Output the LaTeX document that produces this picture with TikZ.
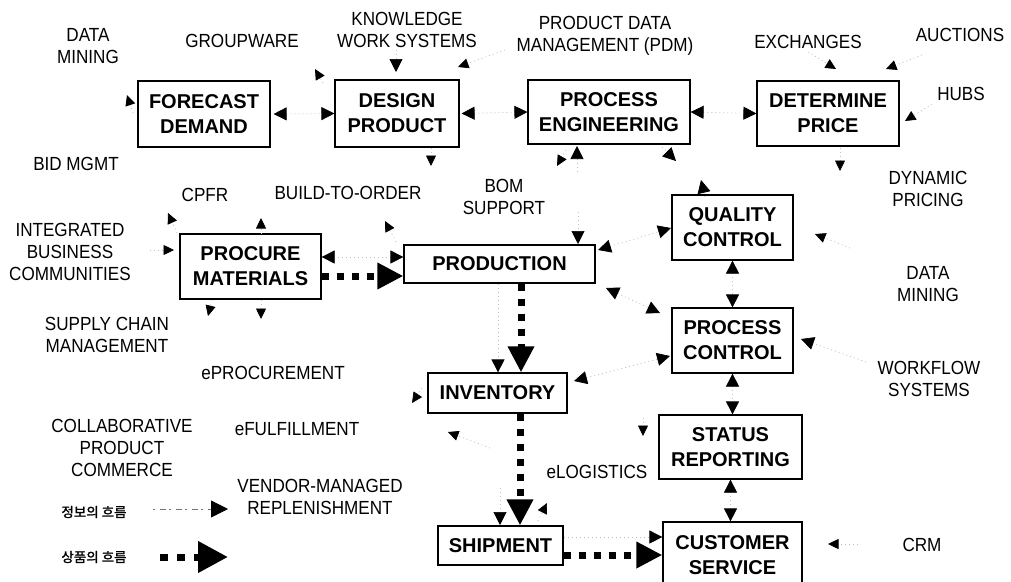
\documentclass[tikz,border=0pt]{standalone}
\usepackage{fontspec}
\setmainfont{Liberation Sans}
\newfontfamily\labfont[FakeStretch=0.9]{Liberation Sans}
\newfontfamily\kofont[FakeBold=1.6]{Noto Sans CJK KR}
\usetikzlibrary{arrows.meta}
\begin{document}
\begin{tikzpicture}[x=1pt,y=-1pt,
  box/.style={draw, line width=1.2pt, inner sep=0pt, align=center,
    font=\fontsize{20}{25}\selectfont\bfseries},
  lab/.style={inner sep=0pt, align=center, font=\labfont\fontsize{19}{22}\selectfont},
  key/.style={inner sep=0pt, font=\kofont\fontsize{13.5}{15}\selectfont},
  info/.style={draw=black!25, line width=0.7pt, dash pattern=on 1pt off 3pt,
    >={Triangle[length=13pt,width=13pt,color=black]}},
  sm/.style={>={Triangle[length=10.5pt,width=10pt,color=black]}},
  goods/.style={draw=black, line width=7pt, dash pattern=on 7pt off 8pt,
    -{Triangle[length=26pt,width=25pt]}},
]
\clip (0,0) rectangle (1011,581);
\fill[white] (0,0) rectangle (1011,581);

% process boxes
\node[box, minimum width=132pt, minimum height=66pt] (fd)  at (204,114)   {FORECAST\\DEMAND};
\node[box, minimum width=124pt, minimum height=67pt] (dp)  at (397,113.5) {DESIGN\\PRODUCT};
\node[box, minimum width=162pt, minimum height=64pt] (pe)  at (609,112)   {PROCESS\\ENGINEERING};
\node[box, minimum width=142pt, minimum height=65pt] (dpr) at (828,113.5) {DETERMINE\\PRICE};
\node[box, minimum width=121pt, minimum height=65pt] (qc)  at (732.5,227.5) {QUALITY\\CONTROL};
\node[box, minimum width=121pt, minimum height=65pt] (pc)  at (732.5,340.5) {PROCESS\\CONTROL};
\node[box, minimum width=143pt, minimum height=64pt] (sr)  at (730.5,447) {STATUS\\REPORTING};
\node[box, minimum width=139pt, minimum height=66pt] (cs)  at (732.5,555) {CUSTOMER\\SERVICE};
\node[box, minimum width=141pt, minimum height=65pt] (pm)  at (250.5,266.5) {PROCURE\\MATERIALS};
\node[box, minimum width=191pt, minimum height=38pt] (pr)  at (499.5,264) {PRODUCTION};
\node[box, minimum width=139pt, minimum height=40pt] (inv) at (497.5,393) {INVENTORY};
\node[box, minimum width=125pt, minimum height=39pt] (sh)  at (500.5,545.5) {SHIPMENT};

% technologies around the boxes
\node[lab] (dm1)   at (88,46)   {DATA\\MINING};
\node[lab] (gw)    at (242,41)  {GROUPWARE};
\node[lab] (kws)   at (407,30)  {KNOWLEDGE\\WORK SYSTEMS};
\node[lab] (pdm)   at (605,36)  {PRODUCT DATA\\MANAGEMENT (PDM)};
\node[lab] (exch)  at (808,42)  {EXCHANGES};
\node[lab] (auc)   at (960,35)  {AUCTIONS};
\node[lab] (hubs)  at (961,94)  {HUBS};
\node[lab] (dyn)   at (928,189) {DYNAMIC\\PRICING};
\node[lab] (bid)   at (76,164)  {BID MGMT};
\node[lab] (cpfr)  at (205,195) {CPFR};
\node[lab] (bto)   at (348,193) {BUILD-TO-ORDER};
\node[lab] (bom)   at (504,197) {BOM\\SUPPORT};
\node[lab] (ibc)   at (70,252)  {INTEGRATED\\BUSINESS\\COMMUNITIES};
\node[lab] (scm)   at (107,335) {SUPPLY CHAIN\\MANAGEMENT};
\node[lab] (eproc) at (273,373) {ePROCUREMENT};
\node[lab] (dm2)   at (928,284) {DATA\\MINING};
\node[lab] (wf)    at (929,379) {WORKFLOW\\SYSTEMS};
\node[lab] (cpc)   at (122,448) {COLLABORATIVE\\PRODUCT\\COMMERCE};
\node[lab] (eful)  at (297,429) {eFULFILLMENT};
\node[lab] (vmr)   at (320,497) {VENDOR-MANAGED\\REPLENISHMENT};
\node[lab] (elog)  at (597,472) {eLOGISTICS};
\node[lab] (crm)   at (922,545) {CRM};

% legend
\node[key] (k1) at (94,512) {정보의 흐름};
\node[key] (k2) at (94,557) {상품의 흐름};
\coordinate (k1a) at (153,509); \coordinate (k1b) at (228,509);
\coordinate (k2a) at (160,557); \coordinate (k2b) at (228,557);
\draw[draw=black!55, line width=0.8pt, dash pattern=on 2pt off 5pt on 6pt off 3pt,
  -{Triangle[length=17pt,width=17pt,color=black]}] (k1a) -- (k1b);
\draw[goods, dash pattern=on 8pt off 9pt, -{Triangle[length=30pt,width=30pt]}] (k2a) -- (k2b);

% flow of goods
\draw[goods] (pm.east |- 0,276) -- (pr.west |- 0,276);
\draw[goods] (pr.south -| 521,0) -- (inv.north -| 521,0);
\draw[goods] (inv.south -| 520,0) -- (sh.north -| 520,0);
\draw[goods] (sh.east |- 0,555) -- (cs.west |- 0,555);

% flow of information between boxes
\draw[info,<->] ([xshift=3pt]fd.east) -- (dp.west);
\draw[info,<->] ([xshift=2pt]dp.east) -- (pe.west);
\draw[info,<->] (pe.east) -- (dpr.west);
\draw[info,<->] (pm.east |- 0,257) -- (pr.west |- 0,257);
\draw[info,<->] (qc.south) -- (pc.north);
\draw[info,<->] (pc.south) -- (pc.south |- sr.north);
\draw[info,<->] (sr.south) -- (sr.south |- cs.north);
\draw[info,->] (pr.south -| 498,0) -- (inv.north -| 498,0);
\draw[info,->] (sh.east |- 0,537) -- (cs.west |- 0,537);

\coordinate (prq) at (598,250); \coordinate (qcp) at (671,228);
\draw[info,<->] (prq) -- (qcp);
\coordinate (prc) at (606,288); \coordinate (pcr) at (660,313);
\draw[info,<->] (prc) -- (pcr);
\coordinate (invc) at (574,381); \coordinate (pci) at (670,356);
\draw[info,<->] (invc) -- (pci);

% information stubs toward the surrounding technologies
\coordinate (s1) at (133,113);  \coordinate (t1) at (127,95);
\coordinate (s2) at (323,83);   \coordinate (t2) at (315,69);
\coordinate (s3) at (396,50);   \coordinate (t3) at (396,72);
\coordinate (s4) at (505,50);   \coordinate (t4) at (458,67);
\coordinate (s5) at (431,148);  \coordinate (t5) at (431,166);
\coordinate (s6) at (566,150);  \coordinate (t6) at (557,166);
\coordinate (s7) at (577,172);  \coordinate (t7) at (577,146);
\coordinate (s8) at (662,147);  \coordinate (t8) at (676,161);
\coordinate (s9) at (705,197);  \coordinate (t9) at (701,180);
\coordinate (s10) at (808,52);  \coordinate (t10) at (836,69);
\coordinate (s11) at (922,55);  \coordinate (t11) at (886,69);
\coordinate (s12) at (932,104); \coordinate (t12) at (905,121);
\coordinate (s13) at (840,148); \coordinate (t13) at (840,171);
\coordinate (s14) at (850,248); \coordinate (t14) at (815,234);
\coordinate (s15) at (866,362); \coordinate (t15) at (801,339);
\coordinate (s19) at (396,242); \coordinate (t19) at (385,221);
\coordinate (s20) at (578,212); \coordinate (t20) at (578,244);
\coordinate (s21) at (422,388); \coordinate (t21) at (412,403);
\coordinate (s22) at (490,448); \coordinate (t22) at (448,432);
\coordinate (s23) at (500,488); \coordinate (t23) at (500,525);
\coordinate (s24) at (538,521); \coordinate (t24) at (547,503);
\coordinate (s25) at (643,418); \coordinate (t25) at (643,436);
\coordinate (s26) at (858,544); \coordinate (t26) at (828,544);
\coordinate (s27) at (177,233); \coordinate (t27) at (168,213);
\coordinate (s28) at (261,234); \coordinate (t28) at (261,218);
\coordinate (s29) at (150,250); \coordinate (t29) at (174,250);
\coordinate (s30) at (212,300); \coordinate (t30) at (208,316);
\coordinate (s31) at (261,300); \coordinate (t31) at (261,319);

\foreach \i in {1,2,4,5,6,10,11,12,13,14,19,21,22,24,25,26,27,28,29,30,31}
  \draw[info,sm,->] (s\i) -- (t\i);
\foreach \i in {3,7,8,9,15,20,23}
  \draw[info,->] (s\i) -- (t\i);
\end{tikzpicture}
\end{document}
